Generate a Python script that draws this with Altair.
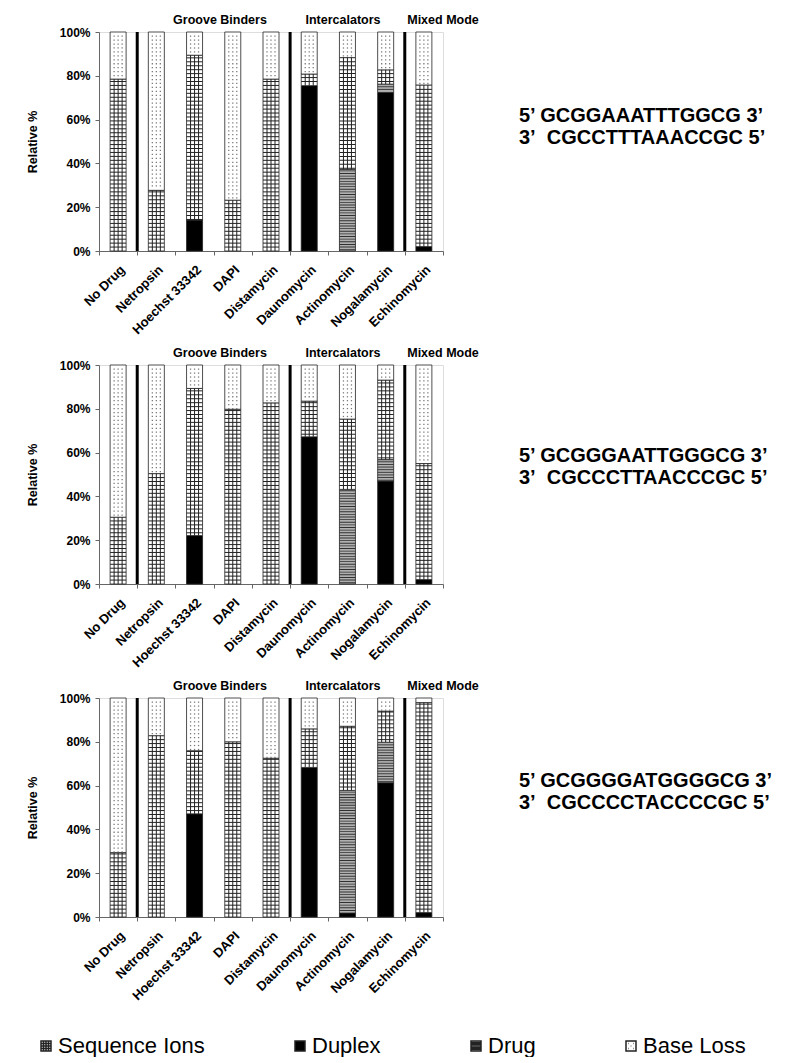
import math
import altair as alt
import pandas as pd

FONT = "Liberation Sans"

drugs = ["No Drug", "Netropsin", "Hoechst 33342", "DAPI", "Distamycin",
         "Daunomycin", "Actinomycin", "Nogalamycin", "Echinomycin"]
components = ["Sequence Ions", "Duplex", "Drug", "Base Loss"]
groups = ["Groove Binders", "Intercalators", "Mixed Mode"]
separators_before = ["Netropsin", "Daunomycin", "Echinomycin"]

# panel 1: 5' GCGGAAATTTGGCG 3'
duplex_1 = [0, 0, 14.1, 0, 0, 75.5, 0, 72.4, 2.0]
drug_1 = [0, 0, 0, 0, 0, 0, 37.3, 3.8, 0]
seq_1 = [78.5, 27.7, 75.3, 23.2, 78.5, 5.3, 51.0, 6.5, 73.8]
base_1 = [21.5, 72.3, 10.6, 76.8, 21.5, 19.2, 11.7, 17.3, 24.2]
text_1 = ["5\u2019 GCGGAAATTTGGCG 3\u2019", "3\u2019\u00a0 CGCCTTTAAACCGC 5\u2019"]

# panel 2: 5' GCGGGAATTGGGCG 3'
duplex_2 = [0, 0, 22.1, 0, 0, 67.2, 0, 47.0, 2.0]
drug_2 = [0, 0, 0, 0, 0, 0, 43.2, 9.8, 0]
seq_2 = [30.5, 50.4, 67.2, 79.8, 82.7, 16.3, 32.1, 36.3, 53.0]
base_2 = [69.5, 49.6, 10.7, 20.2, 17.3, 16.5, 24.7, 6.9, 45.0]
text_2 = ["5\u2019 GCGGGAATTGGGCG 3\u2019", "3\u2019\u00a0 CGCCCTTAACCCGC 5\u2019"]

# panel 3: 5' GCGGGGATGGGGCG 3'
duplex_3 = [0, 0, 47.1, 0, 0, 68.3, 1.8, 61.3, 2.0]
drug_3 = [0, 0, 0, 0, 0, 0, 56.0, 18.5, 0]
seq_3 = [29.4, 82.8, 28.8, 80.0, 72.5, 17.6, 29.3, 14.2, 95.9]
base_3 = [70.6, 17.2, 24.1, 20.0, 27.5, 14.1, 12.9, 6.0, 2.1]
text_3 = ["5\u2019 GCGGGGATGGGGCG 3\u2019", "3\u2019\u00a0 CGCCCCTACCCCGC 5\u2019"]

panels = [
    (duplex_1, drug_1, seq_1, base_1, text_1, 84),
    (duplex_2, drug_2, seq_2, base_2, text_2, 91),
    (duplex_3, drug_3, seq_3, base_3, text_3, 83),
]

W, H = 344, 219
BAR = 16

# legend symbol paths (unit square -1..1)
P_SEQ = ("M-1,-1H1V1H-1Z M-0.5,-1V1 M0,-1V1 M0.5,-1V1 "
         "M-1,-0.5H1 M-1,0H1 M-1,0.5H1")
P_DUP = "M-1,-1H1V1H-1Z"
P_DRUG = ("M-1,-1H1V1H-1Z M-1,-0.67H1 M-1,-0.33H1 M-1,0H1 "
          "M-1,0.33H1 M-1,0.67H1")
P_BASE = ("M-1,-1H1V1H-1Z M-0.55,-0.5h0.1 M0.45,-0.5h0.1 M-0.05,0h0.1 "
          "M-0.55,0.5h0.1 M0.45,0.5h0.1")

color_scale = alt.Scale(domain=components, range=["white", "black", "#b0b0b0", "white"])
shape_scale = alt.Scale(domain=components, range=[P_SEQ, P_DUP, P_DRUG, P_BASE])

x_scale = alt.Scale(type="band", domain=drugs, paddingInner=0, paddingOuter=0)
x_axis = alt.Axis(title=None, labelAngle=-45, labelFontSize=13, labelFontWeight="bold",
                  labelFont=FONT, labelColor="black", tickBand="extent", tickSize=4,
                  labelPadding=8, domainColor="#666", tickColor="#666")
y_scale = alt.Scale(domain=[0, 100], nice=False)
y_axis = alt.Axis(title="Relative %", values=[0, 20, 40, 60, 80, 100],
                  labelExpr="datum.value + '%'", grid=False, tickSize=4, labelPadding=5,
                  labelFontSize=12, labelFontWeight="bold", labelFont=FONT, labelColor="black",
                  titleFontSize=12.5, titleFontWeight="bold", titleFont=FONT, titleColor="black",
                  titlePadding=20, domainColor="#666", tickColor="#666")

legend = alt.Legend(orient="none", legendX=-64, legendY=1003, direction="horizontal",
                    title=None, labelFontSize=22, labelFont=FONT, labelColor="black",
                    symbolSize=100, columnPadding=84, labelOffset=1)


def X(**kw):
    return alt.X("drug:N", scale=x_scale, axis=x_axis, **kw)


def Y():
    return alt.Y("y0:Q", scale=y_scale, axis=y_axis)


def segments(duplex, drug, seq, base):
    rows = []
    for i, d in enumerate(drugs):
        bottom = 0.0
        for comp, vals in (("Duplex", duplex), ("Drug", drug),
                           ("Sequence Ions", seq), ("Base Loss", base)):
            v = vals[i]
            if v > 0:
                rows.append({"drug": d, "component": comp, "y0": bottom, "y1": bottom + v})
            bottom += v
    return pd.DataFrame(rows)


def pattern_rows(seg, comp, step, phase):
    rows = []
    for r in seg[seg["component"] == comp].itertuples():
        n = math.ceil((r.y0 - phase) / step)
        lv = phase + n * step
        while lv < r.y1 - 0.25:
            if lv > r.y0 + 0.25:
                rows.append({"drug": r.drug, "y0": lv})
            lv += step
    return pd.DataFrame(rows, columns=["drug", "y0"])


def panel(duplex, drug, seq, base, lines, text_y):
    seg = segments(duplex, drug, seq, base)
    seq_seg = seg[seg["component"] == "Sequence Ions"]
    layers = []
    bars = alt.Chart(seg).mark_bar(size=BAR, stroke="#222", strokeWidth=0.8).encode(
        x=X(), y=Y(), y2="y1:Q",
        color=alt.Color("component:N", scale=color_scale, legend=legend),
    )
    layers.append(bars)
    # sequence-ion grid: vertical lines
    for off in (-4, 0, 4):
        layers.append(alt.Chart(seq_seg).mark_rule(xOffset=off, color="#222", strokeWidth=1).encode(
            x=X(), y=Y(), y2="y1:Q"))
    # sequence-ion grid: horizontal lines
    layers.append(alt.Chart(pattern_rows(seg, "Sequence Ions", 1.8, 0.0)).mark_tick(
        size=BAR, thickness=1, orient="horizontal", color="#222", opacity=1).encode(x=X(), y=Y()))
    # drug stripes
    layers.append(alt.Chart(pattern_rows(seg, "Drug", 1.2, 0.6)).mark_tick(
        size=BAR, thickness=0.9, orient="horizontal", color="#303030", opacity=1).encode(x=X(), y=Y()))
    # base-loss dots
    dots = pattern_rows(seg, "Base Loss", 1.8, 0.9)
    for off in (-4, 0, 4):
        layers.append(alt.Chart(dots).mark_square(xOffset=off, size=1.6, color="#777", opacity=1).encode(
            x=X(), y=Y()))
    # group separators
    sep = pd.DataFrame({"drug": separators_before, "y0": [0] * 3, "y1": [100] * 3})
    layers.append(alt.Chart(sep).mark_rule(color="black", strokeWidth=3).encode(
        x=X(bandPosition=0), y=Y(), y2="y1:Q"))
    # group labels
    for g, gx in zip(groups, (121, 244, 344)):
        layers.append(alt.Chart(pd.DataFrame({"t": [g]})).mark_text(
            font=FONT, fontSize=12.5, fontWeight="bold", color="black", baseline="middle",
            align="center").encode(text="t:N", x=alt.value(gx), y=alt.value(-12)))
    # sequence text
    for j, line in enumerate(lines):
        layers.append(alt.Chart(pd.DataFrame({"t": [line]})).mark_text(
            font=FONT, fontSize=20, fontWeight="bold", color="black", baseline="middle",
            align="left").encode(text="t:N", x=alt.value(420), y=alt.value(text_y + 22 * j)))
    # legend carrier (no marks drawn)
    layers.append(alt.Chart(seg).transform_filter("false").mark_point(
        filled=True, stroke="black", strokeWidth=1, opacity=1).encode(
        color=alt.Color("component:N", scale=color_scale, legend=legend),
        shape=alt.Shape("component:N", scale=shape_scale, legend=legend)))
    return alt.layer(*layers).properties(width=W, height=H)


chart = alt.vconcat(*[panel(*p) for p in panels], spacing=8).resolve_scale(
    color="shared", shape="shared"
).properties(
    padding={"left": 17, "top": 5, "right": 5, "bottom": 0}
).configure_view(stroke="#999", strokeWidth=1).configure(font=FONT, background="white")

chart.save("out.html", embed_options={"renderer": "svg", "actions": False})
